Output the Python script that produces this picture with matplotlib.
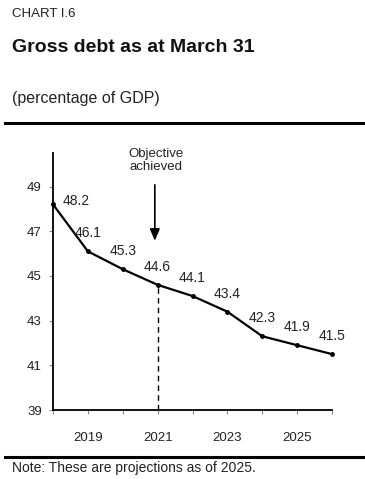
import matplotlib.pyplot as plt

plt.rcParams['font.family'] = ['Liberation Sans', 'DejaVu Sans']

# data
years = [2018, 2019, 2020, 2021, 2022, 2023, 2024, 2025, 2026]
debt = [48.2, 46.1, 45.3, 44.6, 44.1, 43.4, 42.3, 41.9, 41.5]
tick_years = [2019, 2021, 2023, 2025]
y_ticks = [39, 41, 43, 45, 47, 49]
objective_year = 2021

fig = plt.figure(figsize=(3.65, 4.79), dpi=100)

# header
fig.text(12/365, 1-14/479, "CHART I.6", fontsize=9.5, va='center', color='#222222')
fig.text(12/365, 1-48/479, "Gross debt as at March 31", fontsize=14,
         fontweight='bold', va='center', color='#111111')
fig.text(12/365, 1-98/479, "(percentage of GDP)", fontsize=11.5, va='center', color='#222222')
fig.add_artist(plt.Line2D([5/365, 1], [1-123/479, 1-123/479], color='black', lw=2.2))

ax = fig.add_axes([53/365, 1-410/479, (332-53)/365, (410-153)/479])
ax.plot(years, debt, color='black', lw=1.6, marker='o', markersize=2.5, clip_on=False, zorder=3)

# value labels
for i, (x, v) in enumerate(zip(years, debt)):
    off = (23, 3) if i == 0 else (0, 18)
    ax.annotate(f"{v:.1f}", (x, v), xytext=off, textcoords='offset pixels',
                ha='center', va='center', fontsize=10, color='#222222')

# objective marker
ax.plot([objective_year, objective_year], [39, debt[years.index(objective_year)]],
        color='black', lw=1, ls=(0, (4, 3)), zorder=2)
ax.annotate("", xy=(2020.92, 46.45), xytext=(2020.92, 49.2),
            arrowprops=dict(arrowstyle='-|>,head_length=0.7,head_width=0.3', color='black', lw=1.2),
            annotation_clip=False)
ax.text(2020.95, 50.16, "Objective\nachieved", ha='center', va='center', fontsize=9.5,
        color='#222222', linespacing=1.05, clip_on=False)

ax.set_xlim(2018, 2026)
ax.set_ylim(39, 50.5)
ax.set_xticks(years, minor=True)
ax.set_xticks(tick_years)
ax.set_yticks(y_ticks)
ax.tick_params(axis='both', which='both', direction='out', length=3, width=0.8,
               color='#888888', labelsize=9.5, labelcolor='#222222')
ax.tick_params(axis='x', pad=13)
ax.tick_params(axis='y', pad=5)
for s in ['top', 'right']:
    ax.spines[s].set_visible(False)
ax.spines['left'].set_linewidth(1.3)
ax.spines['bottom'].set_linewidth(1.3)

# note
fig.add_artist(plt.Line2D([5/365, 1], [1-457/479, 1-457/479], color='black', lw=2.2))
fig.text(12/365, 1-468/479, "Note: These are projections as of 2025.", fontsize=10,
         va='center', color='#222222')

fig.savefig("out.png", dpi=100)
